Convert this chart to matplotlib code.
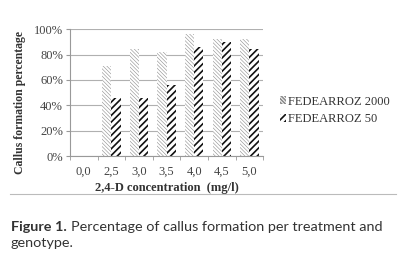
import numpy as np
import matplotlib
matplotlib.use("Agg")
import matplotlib.pyplot as plt
from matplotlib.ticker import PercentFormatter

# data
concentrations = ["0,0", "2,5", "3,0", "3,5", "4,0", "4,5", "5,0"]
fed2000 = [0, 71, 84, 82, 96, 92, 92]
fed50 = [0, 46, 46, 56, 86, 90, 84]
series_names = ["FEDEARROZ 2000", "FEDEARROZ 50"]

serif = ["Liberation Serif", "DejaVu Serif"]

fig = plt.figure(figsize=(4.0, 2.7), dpi=100)
ax = fig.add_axes([0.175, 0.422, 0.483, 0.47])

x = np.arange(len(concentrations))
w = 0.33
plt.rcParams["hatch.linewidth"] = 0.4
b1 = ax.bar(x - w / 2, fed2000, w, color="white", edgecolor="#8c8c8c",
            hatch="\\" * 9, linewidth=0)
plt.rcParams["hatch.linewidth"] = 1.2
b2 = ax.bar(x + w / 2, fed50, w, color="white", edgecolor="#111111",
            hatch="/" * 5, linewidth=0)

ax.set_ylim(0, 100)
ax.set_xlim(-0.5, len(concentrations) - 0.5)
ax.set_yticks(np.arange(0, 101, 20))
ax.yaxis.set_major_formatter(PercentFormatter(decimals=0))
ax.set_xticks(x)
ax.set_xticklabels(concentrations)
ax.set_xticks(np.arange(-0.5, len(concentrations), 1), minor=True)
ax.tick_params(axis="x", which="major", length=0, pad=7)
ax.tick_params(axis="x", which="minor", length=3, color="#999999")
ax.tick_params(axis="y", length=3, color="#999999", pad=2)
for lab in ax.get_xticklabels() + ax.get_yticklabels():
    lab.set_fontfamily(serif)
    lab.set_fontsize(9)
    lab.set_color("#444444")

ax.yaxis.grid(True, color="#b0b0b0", linewidth=0.8)
ax.set_axisbelow(True)
for s in ["top", "right"]:
    ax.spines[s].set_visible(False)
for s in ["left", "bottom"]:
    ax.spines[s].set_color("#999999")
    ax.spines[s].set_linewidth(0.8)

ax.set_xlabel("2,4-D concentration  (mg/l)", fontfamily=serif, fontsize=9,
              fontweight="bold", color="#333333", labelpad=3)
ax.set_ylabel("Callus formation percentage", fontfamily=serif, fontsize=8.5,
              fontweight="bold", color="#333333")
ax.yaxis.set_label_coords(-0.228, 0.42)

leg = ax.legend([b1, b2], series_names, loc="center left",
                bbox_to_anchor=(1.03, 0.36), frameon=False, handlelength=0.5,
                handleheight=0.6, handletextpad=0.1, labelspacing=0.45,
                prop={"family": serif, "size": 9})
for t in leg.get_texts():
    t.set_color("#333333")

# separator line and caption
fig.add_artist(plt.Line2D([0.025, 0.99], [0.28, 0.28], color="#bbbbbb",
                          linewidth=0.8))
cap = ["Lato", "DejaVu Sans"]
fig.text(0.027, 0.16, "Figure 1.", fontfamily=cap, fontsize=10.4,
         fontweight="bold", color="#333333", va="center")
fig.text(0.178, 0.16, "Percentage of callus formation per treatment and",
         fontfamily=cap, fontsize=10.4, color="#333333", va="center")
fig.text(0.027, 0.1, "genotype.", fontfamily=cap, fontsize=10.4,
         color="#333333", va="center")

fig.savefig("out.png", dpi=100)
